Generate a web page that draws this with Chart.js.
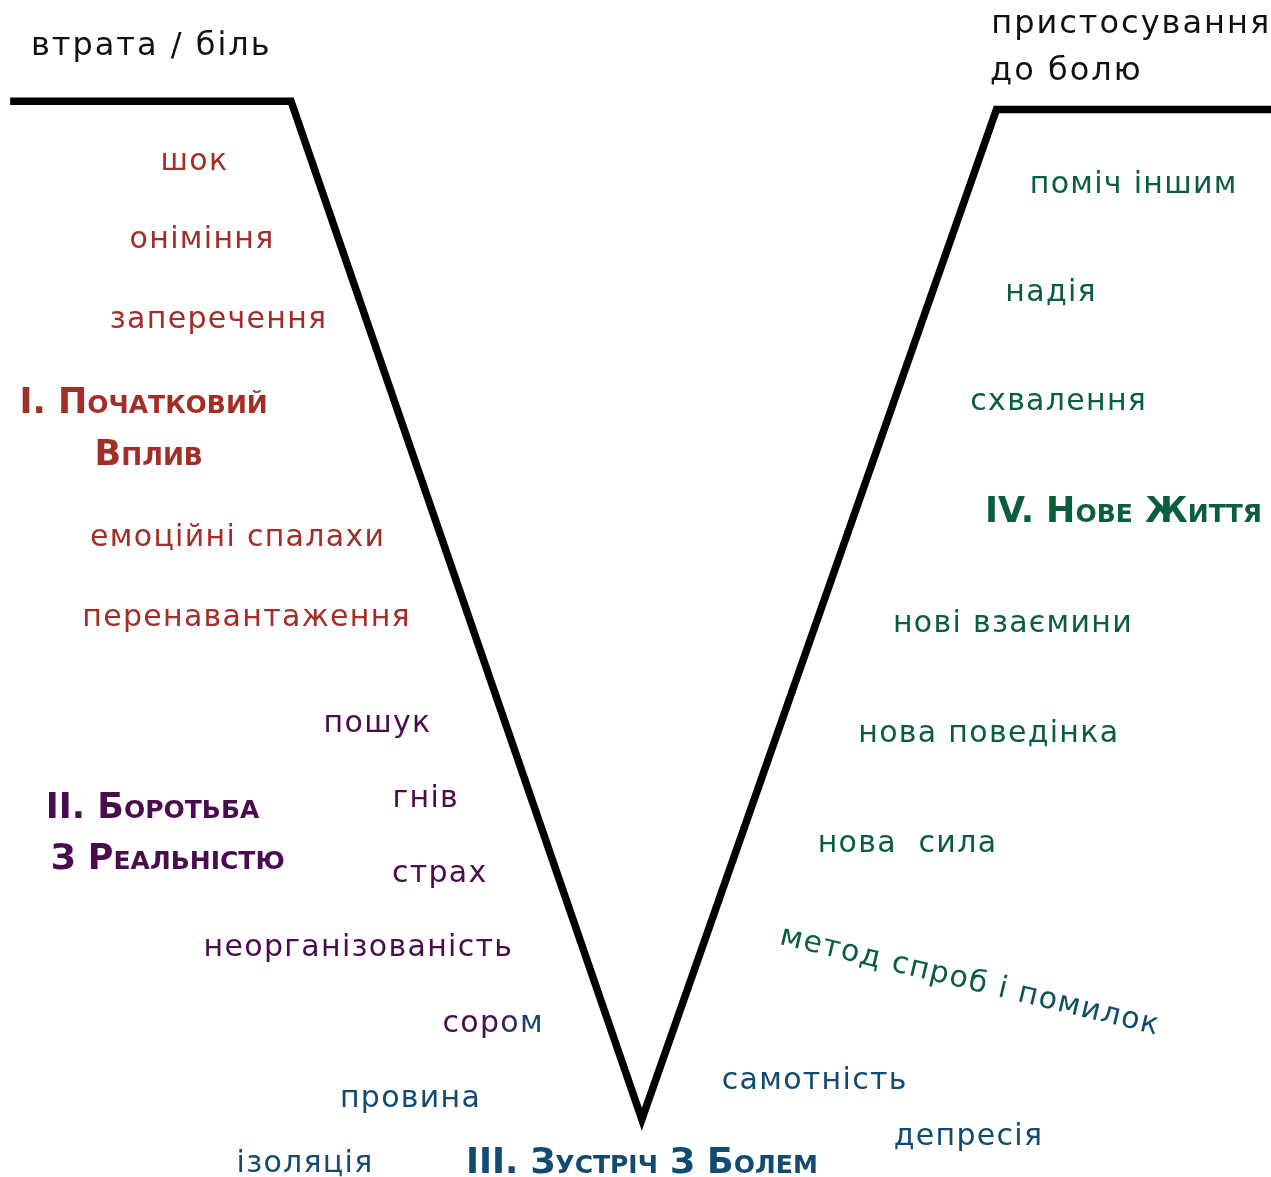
<!DOCTYPE html>
<html lang="uk">
<head>
<meta charset="utf-8">
<title>Крива горя</title>
<script src="https://cdn.jsdelivr.net/npm/chart.js@4.4.1/dist/chart.umd.min.js"></script>
<style>
  html, body { margin: 0; padding: 0; background: #fff; }
  #wrap { position: relative; width: 1271px; height: 1177px; }
</style>
</head>
<body>
<div id="wrap"><canvas id="curve"></canvas></div>
<script>
// ── Data: the V-shaped curve (time → emotional level, 0..100) ──
const curveX = [0.8, 22.9, 50.5, 78.4, 100];
const curveY = [91.4, 91.4, 4.9, 90.7, 90.7];

// ── Stage labels ──
const labelText = [
  'втрата / біль', 'пристосування', 'до болю',
  'шок', 'оніміння', 'заперечення', 'I. Початковий', 'Вплив', 'емоційні спалахи', 'перенавантаження',
  'пошук', 'гнів', 'II. Боротьба', 'З Реальністю', 'страх', 'неорганізованість', 'сором',
  'провина', 'ізоляція', 'III. Зустріч З Болем', 'самотність', 'депресія',
  'поміч іншим', 'надія', 'схвалення', 'IV. Нове Життя', 'нові взаємини', 'нова поведінка', 'нова  сила',
  'метод спроб і помилок'
];
const labelX = [
  11.9, 89.0, 83.9,
  15.3, 15.9, 17.2, 11.3, 11.7, 18.7, 19.4,
  29.7, 33.5, 12.0, 13.2, 34.6, 28.2, 38.8,
  32.3, 24.0, 50.5, 64.1, 76.2,
  89.2, 82.7, 83.3, 88.4, 79.7, 77.8, 71.4,
  76.3
];
const labelY = [
  96.0, 97.9, 93.9,
  86.2, 79.6, 72.8, 65.7, 61.3, 54.3, 47.5,
  38.5, 32.1, 31.3, 26.9, 25.7, 19.4, 13.0,
  6.6, 1.1, 1.1, 8.1, 3.4,
  84.3, 75.1, 65.8, 56.4, 47.0, 37.6, 28.3,
  16.6
];
// stage group: 0 neutral, 1 impact, 2 struggle, 3 pain, 4 new life; 'a-b' = blend
const labelGroup = [
  '0', '0', '0',
  '1', '1', '1', '1', '1', '1', '1',
  '2', '2', '2', '2', '2', '2', '2-3',
  '3', '3', '3', '3', '3',
  '4', '4', '4', '4', '4', '4', '4',
  '4-3'
];
const isTitle = labelText.map(t => /^[IV]+\./.test(t) || t === 'Вплив' || t === 'З Реальністю');

const COLORS = { '0': '#111111', '1': '#a32d27', '2': '#4b0c4f', '3': '#124b72', '4': '#0b5e3b' };
const FONT = '"DejaVu Sans", "Noto Sans", sans-serif';

const labelPlugin = {
  id: 'stageLabels',
  afterDatasetsDraw(chart) {
    const { ctx, scales: { x, y } } = chart;
    ctx.save();
    ctx.textAlign = 'center';
    ctx.textBaseline = 'middle';
    labelText.forEach((text, i) => {
      const px = x.getPixelForValue(labelX[i]);
      const py = y.getPixelForValue(labelY[i]);
      const rotated = i === labelText.length - 1;
      const g = labelGroup[i];
      ctx.save();
      ctx.translate(px, py);
      if (rotated) ctx.rotate(13.5 * Math.PI / 180);
      if (isTitle[i]) {
        ctx.font = 'small-caps bold 35px ' + FONT;
        ctx.letterSpacing = '0px';
      } else if (g === '0') {
        ctx.font = '32px ' + FONT;
        ctx.letterSpacing = '2px';
      } else {
        ctx.font = '30px ' + FONT;
        ctx.letterSpacing = '1.3px';
      }
      if (g.includes('-')) {
        const [a, b] = g.split('-');
        const w = ctx.measureText(text).width;
        const grad = ctx.createLinearGradient(-w / 2, 0, w / 2, 0);
        grad.addColorStop(0.4, COLORS[a]);
        grad.addColorStop(0.9, COLORS[b]);
        ctx.fillStyle = grad;
      } else {
        ctx.fillStyle = COLORS[g];
      }
      ctx.fillText(text, 0, 0);
      ctx.restore();
    });
    ctx.restore();
  }
};

new Chart(document.getElementById('curve'), {
  type: 'line',
  data: {
    datasets: [{
      data: curveX.map((v, i) => ({ x: v, y: curveY[i] })),
      borderColor: '#000',
      borderWidth: 7.5,
      borderJoinStyle: 'miter',
      pointRadius: 0,
      tension: 0,
      clip: false
    }]
  },
  options: {
    responsive: true,
    maintainAspectRatio: false,
    animation: false,
    layout: { padding: 0 },
    plugins: { legend: { display: false }, tooltip: { enabled: false } },
    scales: {
      x: { type: 'linear', min: 0, max: 100, display: false },
      y: { type: 'linear', min: 0, max: 100, display: false }
    }
  },
  plugins: [labelPlugin]
});
</script>
</body>
</html>
